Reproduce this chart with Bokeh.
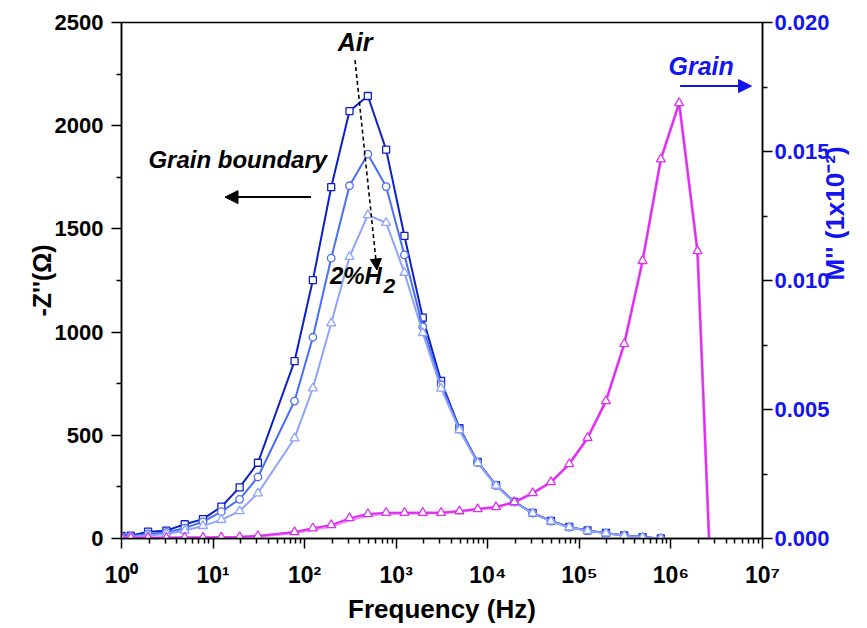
import math
from bokeh.plotting import figure
from bokeh.models import (Range1d, LinearAxis, Arrow, NormalHead, Label,
                          CustomJSTickFormatter, NumeralTickFormatter, FixedTicker)
from bokeh.embed import file_html
from bokeh.resources import INLINE

# ---------------- data ----------------
freq = [1.0, 1.26, 1.95, 3.09, 4.9, 7.76, 12.3, 19.5, 30.9, 77.6, 123, 195,
        309, 490, 776, 1230, 1950, 3090, 4900, 7760, 12300, 19500, 30900,
        49000, 77600, 123000, 195000, 309000, 490000, 776000, 1230000,
        1950000, 3090000]

# -Z'' (Ohm) : air -> 2% H2
z_air = [12, 14, 33, 38, 69, 94, 154, 248, 367, 859, 1252, 1702, 2071, 2144,
         1884, 1466, 1070, 763, 535, 371, 259, 177, 124, 85, 56, 39, 27, 15, 7, 0]
z_mid = [8, 10, 22, 30, 50, 81, 130, 190, 298, 666, 975, 1358, 1709, 1862,
         1705, 1374, 1026, 745, 530, 368, 257, 176, 123, 84, 55, 38, 26, 14, 6, 0]
z_h2 = [6, 8, 15, 22, 38, 61, 90, 133, 219, 486, 728, 1043, 1365, 1567,
        1530, 1288, 996, 727, 525, 366, 256, 175, 122, 83, 54, 37, 25, 13, 5, 0]

# M'' (grain)
m_main = [0.00003, 0.00003, 0.00003, 0.00003, 0.00004, 0.00004, 0.00005,
          0.00006, 0.0001, 0.00025, 0.0004, 0.00052, 0.00079, 0.00095, 0.001,
          0.001, 0.001, 0.001, 0.00106, 0.00114, 0.00122, 0.00141, 0.00176,
          0.00219, 0.00289, 0.0039, 0.00533, 0.00754, 0.01076, 0.0147,
          0.01688, 0.01114, -0.0065]
m_light = [0.00002, 0.00002, 0.00002, 0.00002, 0.00003, 0.00003, 0.00004,
           0.00005, 0.00009, 0.00022, 0.00036, 0.00047, 0.00072, 0.0009,
           0.00097, 0.00098, 0.00099, 0.001, 0.00105, 0.00113, 0.00121,
           0.0014, 0.00175, 0.00218, 0.00288, 0.00389, 0.00532, 0.00753,
           0.01075, 0.01469, 0.01687, 0.01113, -0.0065]

y_left_ticks = [0, 500, 1000, 1500, 2000, 2500]
y_right_ticks = [0.0, 0.005, 0.010, 0.015, 0.020]
x_ticks = [1, 10, 100, 1e3, 1e4, 1e5, 1e6, 1e7]

C_AIR = "#0d1fc8"
C_MID = "#4a6ef6"
C_H2 = "#8fa3fb"
C_M = "#dc2ef0"
C_ML = "#f08cf5"
C_BLUE = "#1414f0"

FONT = "Liberation Sans"

p = figure(width=867, height=628, x_axis_type="log",
           x_range=Range1d(1, 1e7), y_range=Range1d(0, 2500),
           output_backend="svg", toolbar_location=None,
           min_border_left=121, min_border_right=101,
           min_border_top=22, min_border_bottom=90)
p.extra_y_ranges = {"m": Range1d(0, 0.02)}
p.xgrid.visible = False
p.ygrid.visible = False
p.outline_line_color = "black"
p.outline_line_width = 1.5
p.background_fill_color = "white"

# ---- x axis ----
xa = p.xaxis[0]
minor_x = [k * 10 ** d for d in range(0, 7) for k in range(2, 10)]
xa.ticker = FixedTicker(ticks=x_ticks, minor_ticks=minor_x)
xa.formatter = CustomJSTickFormatter(code="""
const s = {'0':'\u2070','1':'\u00b9','2':'\u00b2','3':'\u00b3','4':'\u2074','5':'\u2075','6':'\u2076','7':'\u2077','8':'\u2078','9':'\u2079','-':'\u207b'};
const e = Math.round(Math.log10(tick));
return '10' + String(e).split('').map(c => s[c]).join('');
""")
xa.axis_label = "Frequency (Hz)"

# ---- left axis ----
ya = p.yaxis[0]
ya.ticker = FixedTicker(ticks=y_left_ticks, minor_ticks=[250, 750, 1250, 1750, 2250])
ya.axis_label = "-Z''(\u03a9)"

for ax in (xa, ya):
    ax.axis_line_width = 1.5
    ax.major_tick_line_width = 1.5
    ax.minor_tick_line_width = 1.5
    ax.major_tick_in = 0
    ax.major_tick_out = 10
    ax.minor_tick_in = 0
    ax.minor_tick_out = 5
    ax.major_label_text_font = FONT
    ax.major_label_text_font_style = "bold"
    ax.major_label_text_color = "black"
    ax.axis_label_text_font = FONT
    ax.axis_label_text_font_style = "bold"
    ax.axis_label_text_color = "black"

xa.major_label_text_font_size = "23px"
xa.major_label_standoff = 13
xa.axis_label_text_font_size = "26px"
xa.axis_label_standoff = 3
ya.major_label_text_font_size = "22px"
ya.major_label_standoff = 8
ya.axis_label_text_font_size = "25px"
ya.axis_label_standoff = -4

# ---- right axis ----
ra = LinearAxis(y_range_name="m", axis_label="M'' (1x10\u207b\u00b2)")
ra.ticker = FixedTicker(ticks=y_right_ticks, minor_ticks=[0.0025, 0.0075, 0.0125, 0.0175])
ra.formatter = NumeralTickFormatter(format="0.000")
ra.axis_line_width = 1.5
ra.major_tick_line_width = 1.5
ra.minor_tick_line_width = 1.5
ra.major_tick_in = 0
ra.major_tick_out = 10
ra.minor_tick_in = 0
ra.minor_tick_out = 5
ra.major_label_text_font = FONT
ra.major_label_text_font_style = "bold"
ra.major_label_text_font_size = "22px"
ra.major_label_text_color = C_BLUE
ra.major_label_standoff = 2
ra.axis_label_text_font = FONT
ra.axis_label_text_font_style = "bold"
ra.axis_label_text_font_size = "26px"
ra.axis_label_text_color = C_BLUE
ra.axis_label_standoff = 2
if "axis_label_orientation" in LinearAxis.properties():
    ra.axis_label_orientation = math.pi / 2
p.add_layout(ra, "right")

# ---- series ----
fz = freq[:len(z_air)]
p.line(fz, z_air, line_color=C_AIR, line_width=2)
p.scatter(fz, z_air, marker="square", size=7, fill_color="white",
          line_color=C_AIR, line_width=1.3)
p.line(fz, z_mid, line_color=C_MID, line_width=2)
p.scatter(fz, z_mid, marker="circle", size=7.5, fill_color="white",
          line_color=C_MID, line_width=1.3)
p.line(fz, z_h2, line_color=C_H2, line_width=2)
p.scatter(fz, z_h2, marker="triangle", size=9, fill_color="white",
          line_color=C_H2, line_width=1.3)

p.line(freq, m_light, line_color=C_ML, line_width=3, y_range_name="m")
p.line(freq, m_main, line_color=C_M, line_width=2, y_range_name="m")
p.scatter(freq, m_main, marker="triangle", size=9, fill_color="white",
          line_color=C_M, line_width=1.3, y_range_name="m")

# ---- annotations ----
def lab(x, y, text, color="black", size="24px", align="center", baseline="middle"):
    p.add_layout(Label(x=x, y=y, text=text, text_color=color, text_font=FONT,
                       text_font_style="bold italic", text_font_size=size,
                       text_align=align, text_baseline=baseline))

lab(10 ** 2.55, 2405, "Air", size="25px")
lab(10 ** 1.27, 1834, "Grain boundary")
lab(10 ** 6.33, 2289, "Grain", color=C_BLUE, size="25px")
lab(10 ** 2.56, 1272, "2%H")
lab(10 ** 2.86, 1222, "2", align="left", size="21px")

p.add_layout(Arrow(end=NormalHead(size=11, fill_color="black", line_color="black"),
                   x_start=10 ** 2.55, y_start=2318, x_end=10 ** 2.79, y_end=1301,
                   line_color="black", line_width=1.6, line_dash="4 3"))
p.add_layout(Arrow(end=NormalHead(size=13, fill_color="black", line_color="black"),
                   x_start=10 ** 2.07, y_start=1654, x_end=10 ** 1.13, y_end=1654,
                   line_color="black", line_width=2))
p.add_layout(Arrow(end=NormalHead(size=13, fill_color=C_BLUE, line_color=C_BLUE),
                   x_start=10 ** 6.10, y_start=2192, x_end=10 ** 6.88, y_end=2192,
                   line_color=C_BLUE, line_width=2))

open("out.html", "w").write(file_html(p, INLINE))
